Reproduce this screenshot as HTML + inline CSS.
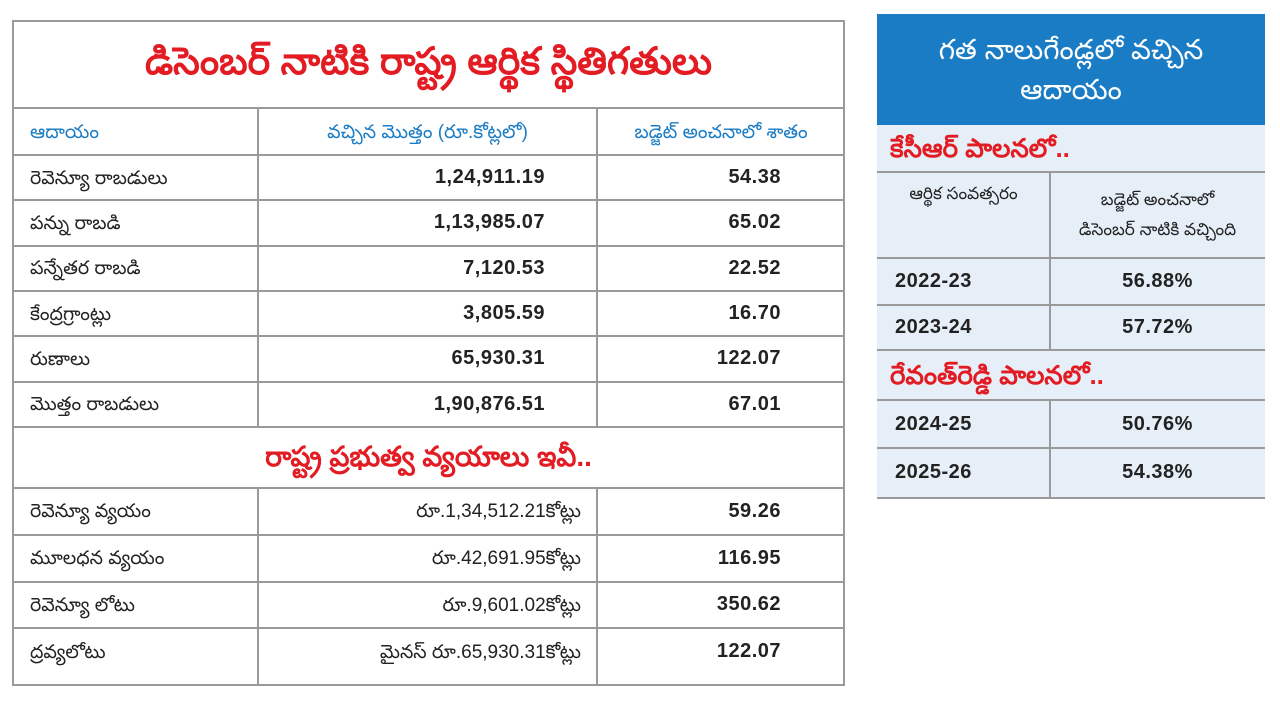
<!DOCTYPE html>
<html><head><meta charset="utf-8">
<style>
body{margin:0;width:1280px;height:720px;background:#fff;position:relative;overflow:hidden;font-family:"Liberation Sans","Noto Sans CJK JP",sans-serif;}
.c{position:absolute;box-sizing:border-box;display:flex;align-items:center;font-size:19px;color:#222;}
.t{padding-top:6px !important}
.hl{position:absolute;background:#9a9a9a;}
.num{font-weight:bold;font-size:20px;color:#222;letter-spacing:0.5px}
.blue{color:#1a7cc4}
.red{color:#e31b23;font-weight:bold}
</style></head><body>
<div style="position:absolute;left:12px;top:20px;width:833px;height:666px;border:2px solid #9a9a9a;box-sizing:border-box;background:#fff"></div>
<div class="c red t" style="left:12px;top:20px;width:833px;height:88px;justify-content:center;font-size:38px">డిసెంబర్ నాటికి రాష్ట్ర ఆర్థిక స్థితిగతులు</div>
<div id="left"></div>

<div style="position:absolute;left:877px;top:14px;width:388px;height:484px;background:#e6eff8"></div>
<div class="c" style="left:877px;top:14px;width:388px;height:111px;background:#1a7cc4;color:#fff;justify-content:center;text-align:center;font-size:28px;line-height:40px">గత నాలుగేండ్లలో వచ్చిన<br>ఆదాయం</div>
<div class="c red t" style="left:890px;top:125px;height:47px;font-size:26px">కేసీఆర్ పాలనలో..</div>
<div class="c" style="left:877px;top:172px;width:173px;height:86px;align-items:flex-start;justify-content:center;padding-top:12px;font-size:17px">ఆర్థిక సంవత్సరం</div>
<div class="c" style="left:1050px;top:172px;width:215px;height:86px;justify-content:center;text-align:center;font-size:17px;line-height:30px">బడ్జెట్ అంచనాలో<br>డిసెంబర్ నాటికి వచ్చింది</div>
<div class="c red t" style="left:890px;top:350px;height:50px;font-size:26px">రేవంత్‌రెడ్డి పాలనలో..</div>
<div id="right"></div>

<script>
const leftLabels=["రెవెన్యూ రాబడులు","పన్ను రాబడి","పన్నేతర రాబడి","కేంద్రగ్రాంట్లు","రుణాలు","మొత్తం రాబడులు"];
const leftAmounts=["1,24,911.19","1,13,985.07","7,120.53","3,805.59","65,930.31","1,90,876.51"];
const leftPercents=["54.38","65.02","22.52","16.70","122.07","67.01"];
const expLabels=["రెవెన్యూ వ్యయం","మూలధన వ్యయం","రెవెన్యూ లోటు","ద్రవ్యలోటు"];
const expAmounts=["రూ.1,34,512.21కోట్లు","రూ.42,691.95కోట్లు","రూ.9,601.02కోట్లు","మైనస్ రూ.65,930.31కోట్లు"];
const expPercents=["59.26","116.95","350.62","122.07"];
const years=["2022-23","2023-24","2024-25","2025-26"];
const yearPercents=["56.88%","57.72%","50.76%","54.38%"];

const L=document.getElementById('left');
function cell(parent,x,y,w,h,txt,cls,just,name){
  const d=document.createElement('div');
  d.className='c '+(cls||'');
  d.style.cssText=`left:${x}px;top:${y}px;width:${w}px;height:${h}px;justify-content:${just};padding:0 18px`;
  d.textContent=txt;
  
  
  parent.appendChild(d);
}
function hline(parent,x,y,w){
  const d=document.createElement('div');d.className='hl';
  d.style.cssText=`left:${x}px;top:${y}px;width:${w}px;height:2px`;
  
  
  parent.appendChild(d);
}
function vline(parent,x,y,h){
  const d=document.createElement('div');d.className='hl';
  d.style.cssText=`left:${x}px;top:${y}px;width:2px;height:${h}px`;
  
  
  parent.appendChild(d);
}
hline(L,12,107,833);
cell(L,12,108,246,47,"ఆదాయం","blue t",'flex-start','income-header');
cell(L,258,108,339,47,"వచ్చిన మొత్తం (రూ.కోట్లలో)","blue t",'center','amount-header');
cell(L,597,108,248,47,"బడ్జెట్ అంచనాలో శాతం","blue t",'center','percent-header');
const rowH=45.3;
for(let i=0;i<leftLabels.length;i++){
  const y=155+i*rowH;
  hline(L,12,y-1,833);
  cell(L,12,y,246,rowH,leftLabels[i],'t','flex-start','income-label');
  cell(L,258,y,339,rowH,leftAmounts[i],'num','flex-end','income-amount');
  L.lastChild.style.paddingRight='52px';
  cell(L,597,y,248,rowH,leftPercents[i],'num','flex-end','income-percent');
  L.lastChild.style.paddingRight='64px';
}
vline(L,257,108,319);vline(L,596,108,319);
hline(L,12,426,833);
cell(L,12,427,833,61,"రాష్ట్ర ప్రభుత్వ వ్యయాలు ఇవీ..",'red t','center','expenditure-title');
L.lastChild.style.fontSize='28px';
const eH=46.8;
for(let i=0;i<expLabels.length;i++){
  const y=488+i*eH;
  hline(L,12,y-1,833);
  cell(L,12,y,246,eH,expLabels[i],'t','flex-start','expense-label');
  cell(L,258,y,339,eH,expAmounts[i],'t','flex-end','expense-amount');
  L.lastChild.style.paddingRight='16px';
  cell(L,597,y,248,eH,expPercents[i],'num','flex-end','expense-percent');
  L.lastChild.style.paddingRight='64px';
}
vline(L,257,488,198);vline(L,596,488,198);

const R=document.getElementById('right');
hline(R,877,171,388);hline(R,877,257,388);
vline(R,1049,172,86);
const ry=[258,305,400,448],rh=[47,45,48,49];
for(let i=0;i<years.length;i++){
  hline(R,877,ry[i]-1,388);
  cell(R,877,ry[i],173,rh[i],years[i],'num','flex-start','year-label');
  cell(R,1050,ry[i],215,rh[i],yearPercents[i],'num','center','year-percent');
  vline(R,1049,ry[i],rh[i]);
}
hline(R,877,349,388);hline(R,877,497,388);
</script>
</body></html>
